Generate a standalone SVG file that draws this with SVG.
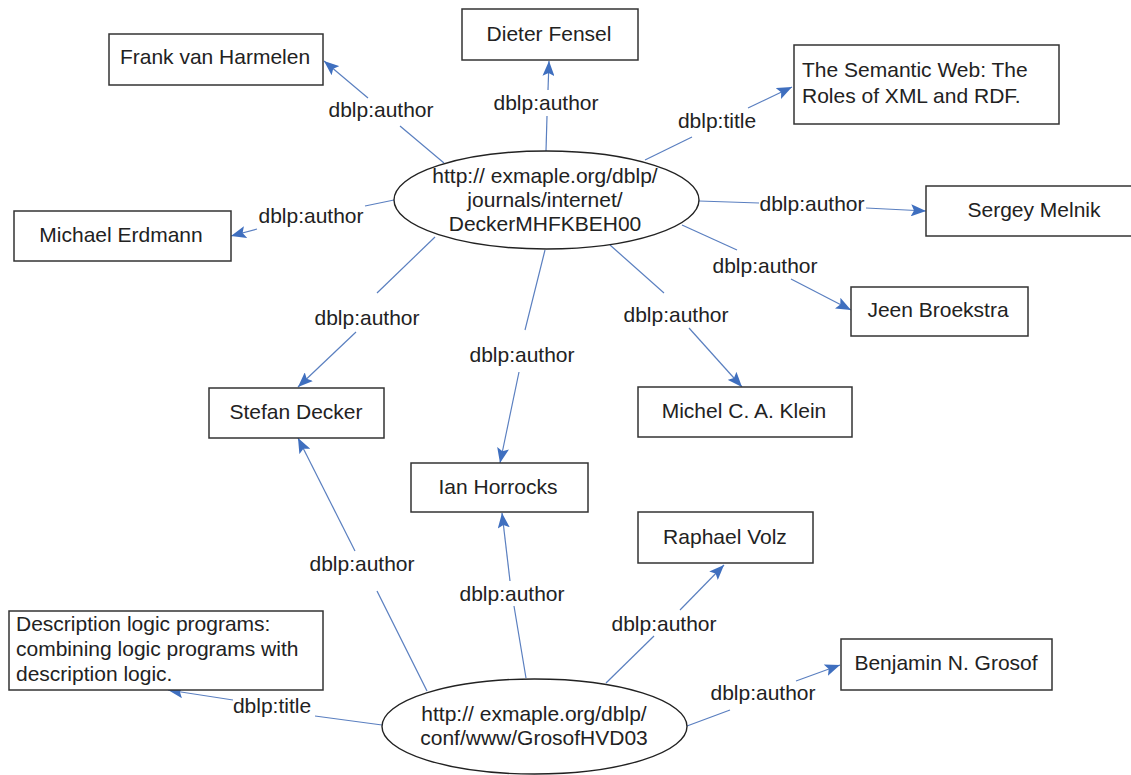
<svg xmlns="http://www.w3.org/2000/svg" width="1131" height="775" viewBox="0 0 1131 775">
<style>
.box{fill:#fff;stroke:#333;stroke-width:1.5}
.ell{fill:#fff;stroke:#222;stroke-width:1.4}
.t{font-family:"Liberation Sans",Arial,sans-serif;font-size:21px;fill:#222}
.c{text-anchor:middle}
.e{fill:none;stroke:#5a7fc0;stroke-width:1.2}
.lbl{font-family:"Liberation Sans",Arial,sans-serif;font-size:21px;fill:#222;text-anchor:middle}
</style>
<defs>
<marker id="ah" markerUnits="userSpaceOnUse" markerWidth="16" markerHeight="12" refX="15" refY="6" orient="auto">
<path d="M0,0 L15,6 L0,12 L3,6 z" fill="#3f6fbf"/>
</marker>
</defs>
<rect width="1131" height="775" fill="#fff"/>
<g id="connectors">
<g id="e-frank"><path class="e" d="M444,163 L400,126"/><path class="e" d="M368,98 L324,61" marker-end="url(#ah)"/><text class="lbl" x="381" y="117">dblp:author</text></g>
<g id="e-dieter"><path class="e" d="M546,151 L547,116"/><path class="e" d="M548,90 L549,61" marker-end="url(#ah)"/><text class="lbl" x="546" y="110">dblp:author</text></g>
<g id="e-title1"><path class="e" d="M645,160 L692,137"/><path class="e" d="M748,108 L792,87" marker-end="url(#ah)"/><text class="lbl" x="717" y="128">dblp:title</text></g>
<g id="e-erdmann"><path class="e" d="M394,200 L365,206"/><path class="e" d="M257,229 L231,236" marker-end="url(#ah)"/><text class="lbl" x="311" y="223">dblp:author</text></g>
<g id="e-sergey"><path class="e" d="M699,201 L759,203"/><path class="e" d="M866,208 L926,211" marker-end="url(#ah)"/><text class="lbl" x="812" y="211">dblp:author</text></g>
<g id="e-jeen"><path class="e" d="M682,225 L737,250"/><path class="e" d="M791,279 L851,310" marker-end="url(#ah)"/><text class="lbl" x="765" y="273">dblp:author</text></g>
<g id="e-klein"><path class="e" d="M610,245 L664,293"/><path class="e" d="M689,328 L742,387" marker-end="url(#ah)"/><text class="lbl" x="676" y="322">dblp:author</text></g>
<g id="e-ian1"><path class="e" d="M545,250 L525,330"/><path class="e" d="M519,372 L500,463" marker-end="url(#ah)"/><text class="lbl" x="522" y="362">dblp:author</text></g>
<g id="e-stefan1"><path class="e" d="M435,237 L377,293"/><path class="e" d="M356,332 L298,387" marker-end="url(#ah)"/><text class="lbl" x="367" y="325">dblp:author</text></g>
<g id="e-stefan2"><path class="e" d="M427,691 L377,591"/><path class="e" d="M355,551 L298,438" marker-end="url(#ah)"/><text class="lbl" x="362" y="571">dblp:author</text></g>
<g id="e-ian2"><path class="e" d="M526,678 L514,606"/><path class="e" d="M510,581 L502,513" marker-end="url(#ah)"/><text class="lbl" x="512" y="601">dblp:author</text></g>
<g id="e-raphael"><path class="e" d="M606,683 L654,636"/><path class="e" d="M680,610 L724,565" marker-end="url(#ah)"/><text class="lbl" x="664" y="631">dblp:author</text></g>
<g id="e-benjamin"><path class="e" d="M687,726 L730,710"/><path class="e" d="M796,681 L840,665" marker-end="url(#ah)"/><text class="lbl" x="763" y="700">dblp:author</text></g>
<g id="e-title2"><path class="e" d="M382,725 L315,716"/><path class="e" d="M233,700 L168,690" marker-end="url(#ah)"/><text class="lbl" x="272" y="713">dblp:title</text></g>
</g>
<g id="n-paper1"><ellipse class="ell" cx="546.5" cy="200" rx="152.5" ry="49"/>
<text class="t c" x="545" y="183">http:// exmaple.org/dblp/</text>
<text class="t c" x="545" y="207">journals/internet/</text>
<text class="t c" x="545" y="231">DeckerMHFKBEH00</text></g>
<g id="n-paper2"><ellipse class="ell" cx="534.5" cy="726.5" rx="152.5" ry="47.5"/>
<text class="t c" x="534" y="721">http:// exmaple.org/dblp/</text>
<text class="t c" x="534" y="745">conf/www/GrosofHVD03</text></g>
<g id="n-frank"><rect class="box" x="109" y="34" width="214" height="51"/><text class="t c" x="215" y="64">Frank van Harmelen</text></g>
<g id="n-dieter"><rect class="box" x="462" y="9" width="176" height="51"/><text class="t c" x="549" y="41">Dieter Fensel</text></g>
<g id="n-title1"><rect class="box" x="794" y="45" width="265" height="79"/><text class="t" x="802" y="77">The Semantic Web: The</text><text class="t" x="802" y="103">Roles of XML and RDF.</text></g>
<g id="n-erdmann"><rect class="box" x="14" y="211" width="217" height="50"/><text class="t c" x="121" y="242">Michael Erdmann</text></g>
<g id="n-sergey"><rect class="box" x="926" y="186" width="216" height="50"/><text class="t c" x="1034" y="217">Sergey Melnik</text></g>
<g id="n-jeen"><rect class="box" x="851" y="287" width="177" height="49"/><text class="t c" x="938" y="317">Jeen Broekstra</text></g>
<g id="n-klein"><rect class="box" x="638" y="387" width="214" height="50"/><text class="t c" x="744" y="418">Michel C. A. Klein</text></g>
<g id="n-stefan"><rect class="box" x="209" y="388" width="175" height="50"/><text class="t c" x="296" y="419">Stefan Decker</text></g>
<g id="n-ian"><rect class="box" x="411" y="463" width="177" height="49"/><text class="t c" x="498" y="494">Ian Horrocks</text></g>
<g id="n-raphael"><rect class="box" x="638" y="512" width="175" height="51"/><text class="t c" x="725" y="544">Raphael Volz</text></g>
<g id="n-benjamin"><rect class="box" x="841" y="639" width="211" height="51"/><text class="t c" x="946" y="670">Benjamin N. Grosof</text></g>
<g id="n-title2"><rect class="box" x="9" y="611" width="314" height="79"/><text class="t" x="16" y="631">Description logic programs:</text><text class="t" x="16" y="656">combining logic programs with</text><text class="t" x="16" y="681">description logic.</text></g>
</svg>
